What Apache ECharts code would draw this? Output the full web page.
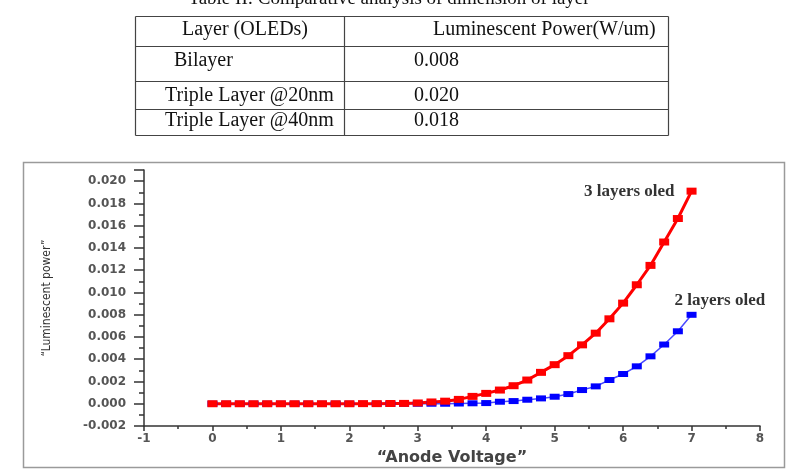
<!DOCTYPE html>
<html>
<head>
<meta charset="utf-8">
<script src="https://cdn.jsdelivr.net/npm/echarts@6/dist/echarts.min.js"></script>
<style>
    html, body {margin: 0; padding: 0; background: #fff;}
    #chart {width: 792px; height: 474px;}
</style>
</head>
<body>
<div id="chart"></div>
<script>
// table data
var tableTitle = 'Table II: Comparative analysis of dimension of layer';
var tableHeader = ['Layer (OLEDs)', 'Luminescent Power(W/um)'];
var tableLayers = ['Bilayer', 'Triple Layer @20nm', 'Triple Layer @40nm'];
var tablePower = ['0.008', '0.020', '0.018'];

// plot data
var voltage = [0, 0.2, 0.4, 0.6, 0.8, 1.0, 1.2, 1.4, 1.6, 1.8, 2.0, 2.2, 2.4, 2.6, 2.8, 3.0, 3.2, 3.4,
    3.6, 3.8, 4.0, 4.2, 4.4, 4.6, 4.8, 5.0, 5.2, 5.4, 5.6, 5.8, 6.0, 6.2, 6.4, 6.6, 6.8, 7.0];
var threeLayers = [0, 0, 0, 0, 0, 0, 0, 0, 0, 0, 0, 0.00001, 0.00001, 0.00002, 0.00003, 0.00007, 0.00016, 0.00023,
    0.00039, 0.00066, 0.00093, 0.00123, 0.00162, 0.00213, 0.00282, 0.00351, 0.00432, 0.00529, 0.00634, 0.00763,
    0.00904, 0.01069, 0.01243, 0.01453, 0.01664, 0.01910];
var twoLayers = [0, 0, 0, 0, 0, 0, 0, 0, 0, 0, 0, 0, 0, 0, 0, 0, 0, 0,
    0.00002, 0.00004, 0.00006, 0.00018, 0.00024, 0.00036, 0.00048, 0.00063, 0.00087, 0.00123, 0.00156, 0.00213,
    0.00267, 0.00336, 0.00426, 0.00532, 0.00651, 0.00799];
var threeName = '3 layers oled';
var twoName = '2 layers oled';

function pairs(ys, label) {
    var out = [];
    for (var i = 0; i < voltage.length; i++) {
        var item = {value: [voltage[i], ys[i]]};
        if (i == voltage.length - 1) {
            item.label = label;
        }
        out.push(item);
    }
    return out;
}

var serif = '"Liberation Serif", "Times New Roman", serif';
var tickFont = {color: '#555', fontSize: 12, fontWeight: 'bold', fontFamily: '"DejaVu Sans", Verdana, sans-serif'};

// table drawn as graphic
var tl = 135.5, tm = 344.5, tr = 668.5;
var rowY = [16.5, 46.5, 81.5, 109.5, 135.5];
var graphic = [];
graphic.push({type: 'text', x: 389, y: 9, style: {text: tableTitle, font: '19px ' + serif, fill: '#111', align: 'center', verticalAlign: 'bottom'}});
for (var r = 0; r < rowY.length; r++) {
    graphic.push({type: 'line', shape: {x1: tl, y1: rowY[r], x2: tr, y2: rowY[r]}, style: {stroke: '#444', lineWidth: 1.2}});
}
graphic.push({type: 'line', shape: {x1: tl, y1: rowY[0], x2: tl, y2: rowY[4]}, style: {stroke: '#444', lineWidth: 1.2}});
graphic.push({type: 'line', shape: {x1: tm, y1: rowY[0], x2: tm, y2: rowY[4]}, style: {stroke: '#444', lineWidth: 1.2}});
graphic.push({type: 'line', shape: {x1: tr, y1: rowY[0], x2: tr, y2: rowY[4]}, style: {stroke: '#444', lineWidth: 1.2}});
graphic.push({type: 'text', x: 245, y: 30, style: {text: tableHeader[0], font: '20px ' + serif, fill: '#111', align: 'center', verticalAlign: 'middle'}});
graphic.push({type: 'text', x: 433, y: 30, style: {text: tableHeader[1], font: '20px ' + serif, fill: '#111', verticalAlign: 'middle'}});
var textLeft = [174, 165, 165];
var textY = [61, 96, 121];
for (var k = 0; k < tableLayers.length; k++) {
    graphic.push({type: 'text', x: textLeft[k], y: textY[k], style: {text: tableLayers[k], font: '20px ' + serif, fill: '#111', verticalAlign: 'middle'}});
    graphic.push({type: 'text', x: 414, y: textY[k], style: {text: tablePower[k], font: '20px ' + serif, fill: '#111', verticalAlign: 'middle'}});
}
// frame round the figure
graphic.push({type: 'rect', shape: {x: 23.5, y: 162.5, width: 761, height: 305}, style: {fill: 'none', stroke: '#9a9a9a', lineWidth: 1.5}});

var chart = echarts.init(document.getElementById('chart'));
var option = {
    animation: false,
    backgroundColor: '#fff',
    graphic: graphic,
    grid: {
        left: 144,
        right: 32,
        top: 170,
        bottom: 48
    },
    xAxis: {
        type: 'value',
        min: -1,
        max: 8,
        interval: 1,
        name: '\u201CAnode Voltage\u201D',
        nameLocation: 'middle',
        nameGap: 23,
        nameTextStyle: {color: '#444', fontSize: 16, fontWeight: 'bold', fontFamily: '"DejaVu Sans", Verdana, sans-serif'},
        splitLine: {show: false},
        axisLine: {onZero: false, lineStyle: {color: '#333', width: 1.5}},
        axisTick: {length: 5, lineStyle: {color: '#333', width: 1.5}},
        minorTick: {show: true, splitNumber: 2, length: 3, lineStyle: {color: '#333', width: 1.5}},
        axisLabel: Object.assign({margin: 7}, tickFont)
    },
    yAxis: {
        type: 'value',
        min: -0.002,
        max: 0.021,
        interval: 0.002,
        name: '\u201CLuminescent power\u201D',
        nameLocation: 'middle',
        nameRotate: 90,
        nameGap: 91,
        nameTextStyle: {color: '#333', fontSize: 12, fontFamily: '"Liberation Sans Narrow", "DejaVu Sans Condensed", Arial, sans-serif'},
        splitLine: {show: false},
        axisLine: {onZero: false, lineStyle: {color: '#333', width: 1.5}},
        axisTick: {length: 10, lineStyle: {color: '#333', width: 1.5}},
        minorTick: {show: true, splitNumber: 2, length: 5, lineStyle: {color: '#333', width: 1.5}},
        axisLabel: Object.assign({
            margin: 18,
            showMaxLabel: false,
            formatter: function (v) {
                var m = Math.round(v * 1000);
                if (m % 2 != 0) return '';
                return v.toFixed(3);
            }
        }, tickFont)
    },
    series: [
        {
            name: twoName,
            type: 'line',
            data: pairs(twoLayers, {
                show: true, formatter: twoName, position: 'right', distance: 0, offset: [-22, -14],
                color: '#333', fontSize: 17, fontWeight: 'bold', fontFamily: serif
            }),
            symbol: 'rect',
            symbolSize: [10, 6],
            itemStyle: {color: '#0000ff'},
            lineStyle: {color: '#4a4aff', width: 1.5}
        },
        {
            name: threeName,
            type: 'line',
            data: pairs(threeLayers, {
                show: true, formatter: threeName, position: 'left', distance: 12,
                color: '#333', fontSize: 17, fontWeight: 'bold', fontFamily: serif
            }),
            symbol: 'rect',
            symbolSize: [10, 7],
            itemStyle: {color: '#ff0000'},
            lineStyle: {color: '#ff0000', width: 3}
        }
    ]
};
chart.setOption(option);
</script>
</body>
</html>
